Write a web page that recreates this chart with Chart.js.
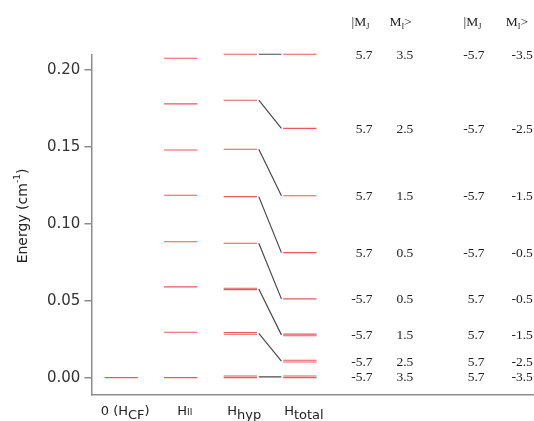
<!DOCTYPE html>
<html>
<head>
<meta charset="utf-8">
<script src="https://cdn.jsdelivr.net/npm/chart.js@4/dist/chart.umd.min.js"></script>
<style>
body { margin: 0; background: #fff; }
#wrap { width: 534px; height: 421px; }
</style>
</head>
<body>
<div id="wrap"><canvas id="levelChart" width="534" height="421"></canvas></div>
<script>
// energy levels per column (cm-1)
var levelsCF = [0];
var levelsII = [0, 0.0295, 0.0590, 0.0884, 0.1186, 0.1480, 0.1780, 0.2077];
var levelsHyp = [0.0000, 0.0011, 0.0282, 0.0293, 0.0572, 0.0581, 0.0874, 0.1177, 0.1485, 0.1804, 0.2103];
var levelsTotal = [0.0000, 0.0011, 0.0102, 0.0113, 0.0272, 0.0283, 0.0512, 0.0813, 0.1183, 0.1621, 0.2103];

// H_hyp -> H_total correlation lines
var hypFrom = [0.0005, 0.0288, 0.0577, 0.0874, 0.1177, 0.1485, 0.1804, 0.2103];
var totalTo = [0.0005, 0.0108, 0.0278, 0.0512, 0.0813, 0.1183, 0.1621, 0.2103];

// column labels (main text, subscript, tail)
var colMain = ['0 (H', 'H', 'H', 'H'];
var colSub = ['CF', 'II', 'hyp', 'total'];
var colTail = [')', '', '', ''];

// |MJ MI> table, rows bottom to top (same order as totalTo)
var mjA = ['-5.7', '-5.7', '-5.7', '-5.7', '5.7', '5.7', '5.7', '5.7'];
var miA = ['3.5', '2.5', '1.5', '0.5', '0.5', '1.5', '2.5', '3.5'];
var mjB = ['5.7', '5.7', '5.7', '5.7', '-5.7', '-5.7', '-5.7', '-5.7'];
var miB = ['-3.5', '-2.5', '-1.5', '-0.5', '-0.5', '-1.5', '-2.5', '-3.5'];

var yTicks = [0, 0.05, 0.10, 0.15, 0.20];

var hw = 0.28;   // half width of a level bar
var red = 'rgb(232,88,98)';
var axisGray = '#8c8c8c';
var sans = '"DejaVu Sans", sans-serif';
var serif = '"Liberation Serif", serif';

function levelPoints(col, vals) {
    var pts = [];
    vals.forEach(function (v) {
        pts.push({x: col - hw, y: v}, {x: col + hw, y: v}, {x: col + hw, y: null});
    });
    return pts;
}

var connPts = [];
for (var i = 0; i < hypFrom.length; i++) {
    connPts.push({x: 2 + hw + 0.03, y: hypFrom[i]}, {x: 3 - hw - 0.03, y: totalTo[i]}, {x: 3, y: null});
}

function lvlSet(col, vals) {
    return {data: levelPoints(col, vals), borderColor: red, borderWidth: 1.1};
}

// draw a run of text pieces [text, font, dy]
function drawParts(ctx, parts, x, y, align) {
    var w = 0;
    parts.forEach(function (p) { ctx.font = p[1]; w += ctx.measureText(p[0]).width; });
    var cx = align === 'center' ? x - w / 2 : (align === 'right' ? x - w : x);
    parts.forEach(function (p) {
        ctx.font = p[1];
        ctx.fillText(p[0], cx, y + (p[2] || 0));
        cx += ctx.measureText(p[0]).width;
    });
}

var extras = {
    id: 'extras',
    afterDraw: function (chart) {
        var ctx = chart.ctx;
        var xs = chart.scales.x, ys = chart.scales.y;
        ctx.save();
        ctx.fillStyle = '#222';
        ctx.textBaseline = 'alphabetic';

        // column labels
        for (var c = 0; c < colMain.length; c++) {
            var small = colSub[c] === 'II';
            drawParts(ctx, [
                [colMain[c], '13px ' + sans, 0],
                [colSub[c], small ? '9px ' + sans : '13px ' + sans, small ? 0 : 4],
                [colTail[c], '13px ' + sans, 0]
            ], xs.getPixelForValue(c) + 4, 415, 'center');
        }

        // y title
        ctx.save();
        ctx.translate(27, 216);
        ctx.rotate(-Math.PI / 2);
        drawParts(ctx, [
            ['Energy (cm', '14px ' + sans, 0],
            ['-1', '9px ' + sans, -7],
            [')', '14px ' + sans, 0]
        ], 0, 0, 'center');
        ctx.restore();

        // table headers
        var colA = xs.getPixelForValue(4.22), colB = xs.getPixelForValue(4.62);
        var colC = xs.getPixelForValue(6.10), colD = xs.getPixelForValue(6.91);
        var f = '13.5px ' + serif, fs = '8px ' + serif;
        [[colA - 21, colB - 7], [colC - 21, colD - 27]].forEach(function (p) {
            drawParts(ctx, [['|M', f, 0], ['J', fs, 3]], p[0], 26, 'left');
            drawParts(ctx, [['M', f, 0], ['I', fs, 3], ['>', f, 0]], p[1], 26, 'left');
        });

        // table rows
        ctx.font = f;
        ctx.textBaseline = 'middle';
        for (var r = 0; r < totalTo.length; r++) {
            var y = ys.getPixelForValue(totalTo[r]) + 1;
            ctx.textAlign = 'right';
            ctx.fillText(mjA[r], colA, y);
            ctx.fillText(mjB[r], colC, y);
            ctx.fillText(miB[r], colD, y);
            ctx.textAlign = 'left';
            ctx.fillText(miA[r], colB, y);
        }
        ctx.restore();
    }
};

var ctxL = document.getElementById('levelChart').getContext('2d');
var levelChart = new Chart(ctxL, {
    type: 'scatter',
    data: {
        datasets: [
            lvlSet(0, levelsCF),
            lvlSet(1, levelsII),
            lvlSet(2, levelsHyp),
            lvlSet(3, levelsTotal),
            {data: connPts, borderColor: '#4a4a4a', borderWidth: 1.2}
        ]
    },
    options: {
        responsive: false,
        animation: false,
        showLine: true,
        spanGaps: false,
        clip: false,
        elements: {point: {radius: 0}, line: {tension: 0}},
        layout: {padding: {top: 55, bottom: 18, left: 43, right: 0}},
        plugins: {legend: {display: false}, tooltip: {enabled: false}},
        scales: {
            x: {
                type: 'linear', min: -0.5, max: 6.93,
                ticks: {display: false},
                grid: {display: false},
                border: {color: axisGray, width: 1.5}
            },
            y: {
                min: -0.0113, max: 0.2098,
                afterBuildTicks: function (axis) {
                    axis.ticks = yTicks.map(function (v) { return {value: v}; });
                },
                ticks: {
                    font: {family: 'DejaVu Sans', size: 15},
                    color: '#333',
                    padding: 4,
                    callback: function (v) { return v.toFixed(2); }
                },
                grid: {drawOnChartArea: false, tickLength: 7, color: axisGray, lineWidth: 1.5},
                border: {color: axisGray, width: 1.5}
            }
        }
    },
    plugins: [extras]
});
</script>
</body>
</html>
